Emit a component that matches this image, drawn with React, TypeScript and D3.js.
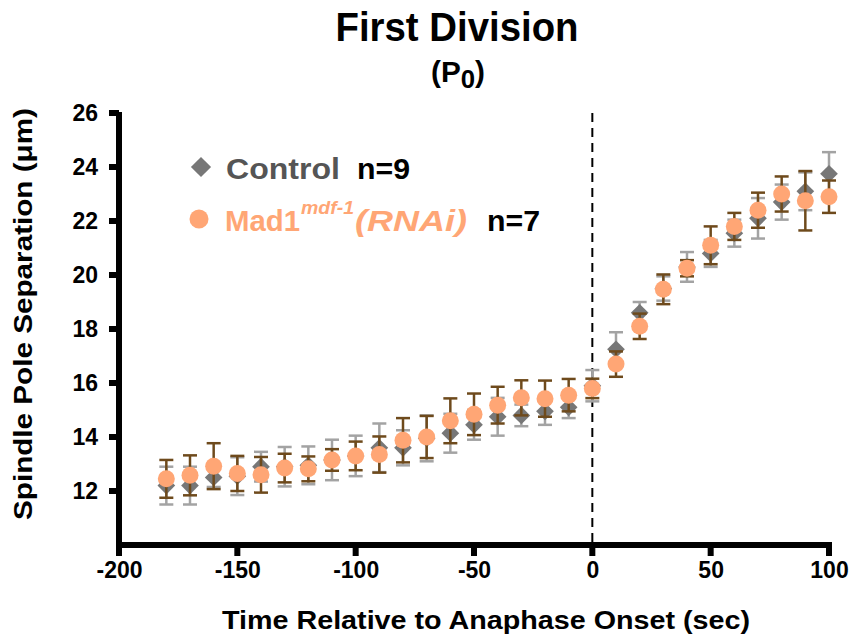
import React, { useEffect, useRef } from 'react'
import * as d3 from 'd3'

const times = [-180, -170, -160, -150, -140, -130, -120, -110, -100, -90, -80, -70, -60, -50, -40, -30, -20, -10, 0, 10, 20, 30, 40, 50, 60, 70, 80, 90, 100]
const controlMean = [12.2, 12.2, 12.5, 12.55, 12.9, 12.9, 12.95, 13.15, 13.3, 13.6, 13.6, 13.95, 14.14, 14.45, 14.75, 14.8, 14.95, 15.1, 15.9, 17.25, 18.6, 19.5, 20.3, 20.8, 21.55, 22.1, 22.7, 23.1, 23.75]
const controlErr = [0.7, 0.7, 0.35, 0.7, 0.55, 0.73, 0.7, 0.75, 0.75, 0.9, 0.65, 0.85, 0.72, 0.55, 0.7, 0.4, 0.5, 0.4, 0.58, 0.63, 0.4, 0.45, 0.55, 0.5, 0.5, 0.75, 0.65, 0.7, 0.8]
const madMean = [12.45, 12.58, 12.92, 12.65, 12.6, 12.85, 12.82, 13.15, 13.3, 13.35, 13.88, 14.0, 14.6, 14.84, 15.18, 15.45, 15.42, 15.55, 15.8, 16.7, 18.1, 19.47, 20.25, 21.1, 21.8, 22.4, 23.0, 22.75, 22.9]
const madErr = [0.7, 0.74, 0.85, 0.65, 0.66, 0.53, 0.46, 0.4, 0.53, 0.67, 0.82, 0.78, 0.83, 0.77, 0.68, 0.65, 0.67, 0.6, 0.36, 0.47, 0.47, 0.55, 0.3, 0.7, 0.5, 0.65, 0.65, 1.1, 0.6]
const xTicks = [-200, -150, -100, -50, 0, 50, 100]
const yTicks = [12, 14, 16, 18, 20, 22, 24, 26]

const W = 856
const H = 641
const FONT = '"Liberation Sans", Arial, Helvetica, sans-serif'

export default function App() {
	const ref = useRef<SVGSVGElement>(null)

	useEffect(() => {
		const svg = d3.select(ref.current)
		svg.selectAll('*').remove()

		const x = d3.scaleLinear().domain([-200, 100]).range([119, 829])
		const y = d3.scaleLinear().domain([10, 26]).range([545, 113])

		// titles
		svg.append('text')
			.attr('x', 457).attr('y', 41)
			.attr('text-anchor', 'middle')
			.attr('font-size', 40).attr('font-weight', 'bold')
			.attr('textLength', 243).attr('lengthAdjust', 'spacingAndGlyphs')
			.text('First Division')
		const sub = svg.append('text')
			.attr('x', 458).attr('y', 82)
			.attr('text-anchor', 'middle')
			.attr('font-size', 30).attr('font-weight', 'bold')
			.attr('textLength', 54).attr('lengthAdjust', 'spacingAndGlyphs')
		sub.append('tspan').text('(P')
		sub.append('tspan').attr('font-size', 26).attr('dy', 6).text('0')
		sub.append('tspan').attr('dy', -6).text(')')

		// dashed line at anaphase onset
		svg.append('line')
			.attr('x1', x(0)).attr('x2', x(0))
			.attr('y1', y(26)).attr('y2', y(10))
			.attr('stroke', '#000').attr('stroke-width', 2)
			.attr('stroke-dasharray', '9,6')

		// axes: d3 places the tick labels, thick bars drawn as rects
		const xAxis = svg.append('g')
			.attr('transform', `translate(0, ${y(10)})`)
			.call(d3.axisBottom(x).tickValues(xTicks).tickSize(0).tickSizeOuter(0).tickPadding(17).tickFormat((d) => String(d)))
		const yAxis = svg.append('g')
			.attr('transform', `translate(${x(-200)}, 0)`)
			.call(d3.axisLeft(y).tickValues(yTicks).tickSize(0).tickSizeOuter(0).tickPadding(21).tickFormat((d) => String(d)))
		;[xAxis, yAxis].forEach((g) => {
			g.select('.domain').remove()
			g.selectAll('.tick line').remove()
			g.selectAll('.tick text')
				.attr('font-family', FONT)
				.attr('font-weight', 'bold')
				.attr('font-size', 23)
				.attr('fill', '#000')
		})
		const lw = 6
		const axisBars = svg.append('g').attr('fill', '#000')
		axisBars.append('rect')
			.attr('x', x(-200) - lw / 2).attr('y', y(10) - lw / 2)
			.attr('width', x(100) - x(-200) + lw).attr('height', lw)
		axisBars.append('rect')
			.attr('x', x(-200) - lw / 2).attr('y', y(26) - 1)
			.attr('width', lw).attr('height', y(10) - y(26) + 1)
		xTicks.forEach((t) => {
			axisBars.append('rect')
				.attr('x', x(t) - lw / 2).attr('y', y(10))
				.attr('width', lw).attr('height', 11)
		})
		yTicks.forEach((v) => {
			axisBars.append('rect')
				.attr('x', x(-200) - 10).attr('y', y(v) - lw / 2)
				.attr('width', 10).attr('height', lw)
		})

		// axis titles
		svg.append('text')
			.attr('x', 486).attr('y', 629)
			.attr('text-anchor', 'middle')
			.attr('font-size', 25).attr('font-weight', 'bold')
			.attr('textLength', 528).attr('lengthAdjust', 'spacingAndGlyphs')
			.text('Time Relative to Anaphase Onset (sec)')
		svg.append('text')
			.attr('transform', `translate(32, 314) rotate(-90)`)
			.attr('text-anchor', 'middle')
			.attr('font-size', 25).attr('font-weight', 'bold')
			.attr('textLength', 412).attr('lengthAdjust', 'spacingAndGlyphs')
			.text('Spindle Pole Separation (\u03bcm)')

		const errBars = (mean: number[], err: number[], color: string) => {
			const g = svg.append('g').attr('stroke', color).attr('stroke-width', 2.5).attr('fill', 'none')
			times.forEach((t, i) => {
				const cx = x(t)
				const top = y(mean[i] + err[i])
				const bot = y(mean[i] - err[i])
				g.append('line').attr('x1', cx).attr('x2', cx).attr('y1', top).attr('y2', bot)
				g.append('line').attr('x1', cx - 7).attr('x2', cx + 7).attr('y1', top).attr('y2', top)
				g.append('line').attr('x1', cx - 7).attr('x2', cx + 7).attr('y1', bot).attr('y2', bot)
			})
		}

		const diamond = d3.symbol().type(d3.symbolDiamond2).size(200)

		errBars(controlMean, controlErr, '#a3a3a3')
		svg.append('g').selectAll('path').data(times).enter().append('path')
			.attr('d', diamond)
			.attr('transform', (t, i) => `translate(${x(t)}, ${y(controlMean[i])})`)
			.attr('fill', '#777777')

		errBars(madMean, madErr, '#6e4a1c')
		svg.append('g').selectAll('circle').data(times).enter().append('circle')
			.attr('cx', (t) => x(t))
			.attr('cy', (t, i) => y(madMean[i]))
			.attr('r', 8.5)
			.attr('fill', '#ffa675')

		// legend
		svg.append('path').attr('d', d3.symbol().type(d3.symbolDiamond2).size(260)())
			.attr('transform', 'translate(201, 167)').attr('fill', '#777777')
		svg.append('text').attr('x', 226).attr('y', 179)
			.attr('font-size', 29).attr('font-weight', 'bold').attr('fill', '#555555')
			.attr('textLength', 114).attr('lengthAdjust', 'spacingAndGlyphs')
			.text('Control')
		svg.append('text').attr('x', 357).attr('y', 179)
			.attr('font-size', 29).attr('font-weight', 'bold').attr('fill', '#000')
			.attr('textLength', 53).attr('lengthAdjust', 'spacingAndGlyphs')
			.text('n=9')

		svg.append('circle').attr('cx', 199).attr('cy', 219).attr('r', 9.5).attr('fill', '#ffa675')
		svg.append('text').attr('x', 225).attr('y', 231)
			.attr('font-size', 29).attr('font-weight', 'bold').attr('fill', '#ffa675')
			.attr('textLength', 75).attr('lengthAdjust', 'spacingAndGlyphs')
			.text('Mad1')
		svg.append('text').attr('x', 301).attr('y', 214)
			.attr('font-size', 19).attr('font-weight', 'bold').attr('font-style', 'italic').attr('fill', '#ffa675')
			.attr('textLength', 53).attr('lengthAdjust', 'spacingAndGlyphs')
			.text('mdf-1')
		svg.append('text').attr('x', 355).attr('y', 231)
			.attr('font-size', 29).attr('font-weight', 'bold').attr('font-style', 'italic').attr('fill', '#ffa675')
			.attr('textLength', 112).attr('lengthAdjust', 'spacingAndGlyphs')
			.text('(RNAi)')
		svg.append('text').attr('x', 487).attr('y', 231)
			.attr('font-size', 29).attr('font-weight', 'bold').attr('fill', '#000')
			.attr('textLength', 53).attr('lengthAdjust', 'spacingAndGlyphs')
			.text('n=7')
	}, [])

	return (
		<svg
			ref={ref}
			width={W}
			height={H}
			fontFamily={FONT}
			style={{ position: 'absolute', left: 0, top: 0, background: '#fff' }}
		/>
	)
}
